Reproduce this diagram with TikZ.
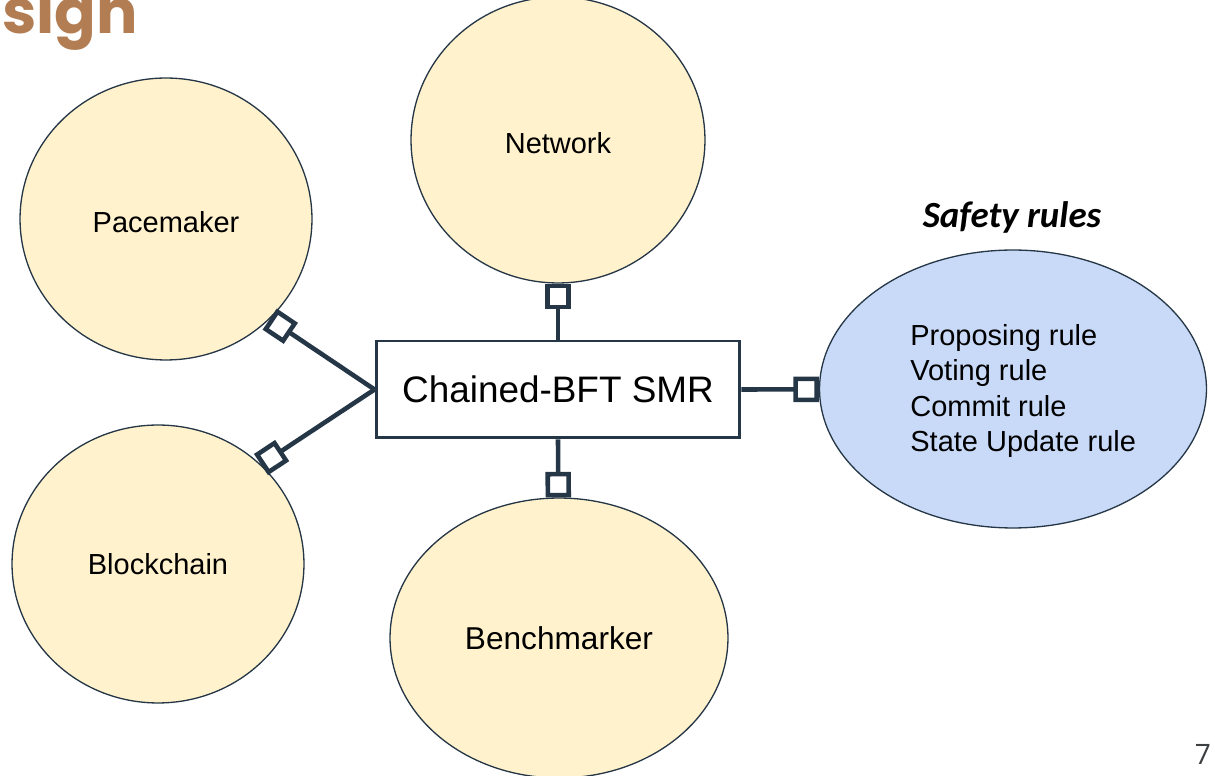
\documentclass[tikz,border=0pt]{standalone}
\usepackage{fontspec}
\setmainfont{Liberation Sans}
\newfontfamily\titlefont{Poppins}
\newfontfamily\calfont{Carlito}
\newfontfamily\numfont{Open Sans}
\usetikzlibrary{shapes.geometric,arrows.meta}
\definecolor{yel}{HTML}{FFF2CC}
\definecolor{blu}{HTML}{C9DAF8}
\definecolor{dark}{HTML}{253746}
\definecolor{brown}{HTML}{B27D52}
\definecolor{numgray}{HTML}{3C4043}
\begin{document}
\begin{tikzpicture}[x=0.02cm,y=-0.02cm,
  comp/.style={ellipse,draw=dark,line width=0.75pt,fill=yel,inner sep=0pt,font=\fontsize{16.5}{19}\selectfont},
  smrbox/.style={rectangle,draw=dark,line width=1.7pt,fill=white,minimum width=7.28cm,minimum height=1.94cm,inner sep=0pt,font=\fontsize{21}{25}\selectfont},
  conn/.style={draw=dark,line width=2.6pt,-{Square[length=14.5pt,width=14.5pt,fill=white]}}]
\useasboundingbox (0,0) rectangle (1215,776);
\node[anchor=base west,text=brown,font=\titlefont\bfseries\fontsize{35}{40}\selectfont] (title) at (-4,34) {sign};
\node[comp,minimum width=5.84cm,minimum height=5.64cm,text depth=0pt] (pace) at (166,219) {\raisebox{-3pt}{Pacemaker}};
\node[comp,minimum width=5.88cm,minimum height=5.72cm,text depth=0pt] (net) at (558,140) {\raisebox{-3pt}{Network}};
\node[comp,minimum width=5.84cm,minimum height=5.56cm] (block) at (158,564) {Blockchain};
\node[comp,minimum width=6.76cm,minimum height=5.6cm,font=\fontsize{18}{21}\selectfont] (bench) at (559,638) {Benchmarker};
\node[ellipse,draw=dark,line width=0.75pt,fill=blu,minimum width=7.74cm,minimum height=5.56cm] (safe) at (1013,389) {};
\node[anchor=west,align=left,inner sep=0pt,font=\fontsize{16.5}{20.1}\selectfont] (rules) at (910,391) {Proposing rule\\Voting rule\\Commit rule\\State Update rule};
\node[anchor=base,font=\calfont\bfseries\itshape\fontsize{21}{25}\selectfont] (safetitle) at (1012,228) {Safety rules};
\node[smrbox] (smr) at (558,389.5) {Chained-BFT SMR};
\draw[conn] (smr.north) -- (net);
\draw[conn] (smr.south) -- (bench);
\draw[conn] (smr.east) -- (safe);
\draw[conn] (smr.west) -- (pace.316);
\draw[conn] (smr.west) -- (block.44);
\node[anchor=base,text=numgray,font=\numfont\fontsize{16}{19}\selectfont] (pg) at (1203,765) {7};
\end{tikzpicture}
\end{document}
